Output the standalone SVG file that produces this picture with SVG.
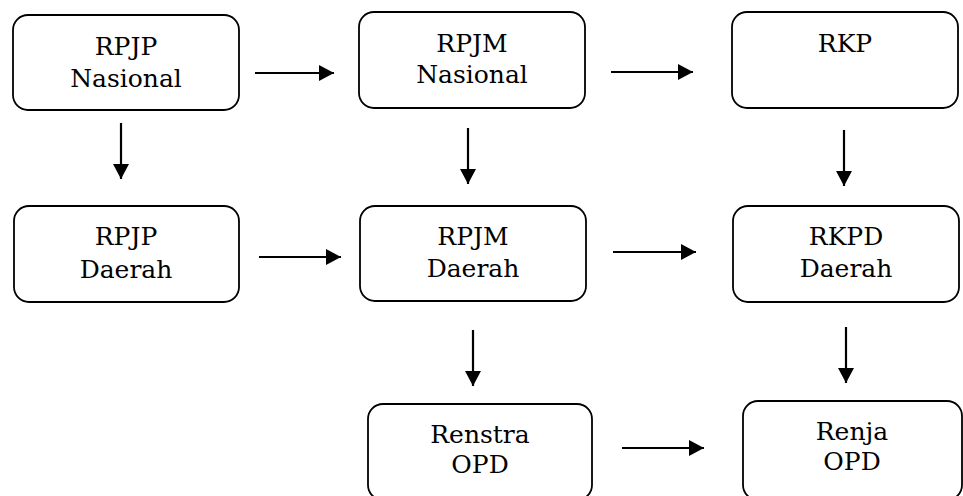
<svg xmlns="http://www.w3.org/2000/svg" width="963" height="496" viewBox="0 0 963 496">
<style>
.box{fill:#fff;stroke:#000;stroke-width:1.8}
.t{font-family:"DejaVu Serif","Liberation Serif",serif;font-size:25px;fill:#000;text-anchor:middle}
.c{stroke:#000;stroke-width:2.2;fill:none;marker-end:url(#ah)}
</style>
<defs>
<marker id="ah" markerUnits="userSpaceOnUse" markerWidth="17" markerHeight="17" refX="15" refY="8" orient="auto">
<path d="M0,0 L15,8 L0,16 Z" fill="#000"/>
</marker>
</defs>
<rect width="963" height="496" fill="#fff"/>
<g id="connectors">
<line class="c" x1="255" y1="73" x2="334" y2="73"/>
<line class="c" x1="611" y1="72" x2="693" y2="72"/>
<line class="c" x1="121" y1="123" x2="121" y2="179"/>
<line class="c" x1="468" y1="128" x2="468" y2="184"/>
<line class="c" x1="844" y1="130" x2="844" y2="186"/>
<line class="c" x1="259" y1="257" x2="341" y2="257"/>
<line class="c" x1="613" y1="252" x2="696" y2="252"/>
<line class="c" x1="473" y1="330" x2="473" y2="386"/>
<line class="c" x1="846" y1="327" x2="846" y2="383"/>
<line class="c" x1="622" y1="448" x2="704" y2="448"/>
</g>
<g id="rpjp-nasional">
<rect class="box" x="13" y="15" width="226" height="95" rx="15"/>
<text class="t" x="126" y="55">RPJP</text>
<text class="t" x="126" y="87">Nasional</text>
</g>
<g id="rpjm-nasional">
<rect class="box" x="359" y="12" width="226" height="96" rx="15"/>
<text class="t" x="472" y="52">RPJM</text>
<text class="t" x="472" y="83">Nasional</text>
</g>
<g id="rkp">
<rect class="box" x="732" y="12" width="226" height="96" rx="15"/>
<text class="t" x="845" y="52">RKP</text>
</g>
<g id="rpjp-daerah">
<rect class="box" x="14" y="206" width="225" height="96" rx="15"/>
<text class="t" x="126" y="245">RPJP</text>
<text class="t" x="126" y="278">Daerah</text>
</g>
<g id="rpjm-daerah">
<rect class="box" x="360" y="206" width="226" height="95" rx="15"/>
<text class="t" x="473" y="245">RPJM</text>
<text class="t" x="473" y="277">Daerah</text>
</g>
<g id="rkpd-daerah">
<rect class="box" x="733" y="206" width="226" height="96" rx="15"/>
<text class="t" x="846" y="245">RKPD</text>
<text class="t" x="846" y="277">Daerah</text>
</g>
<g id="renstra-opd">
<rect class="box" x="368" y="404" width="224" height="96" rx="15"/>
<text class="t" x="480" y="443">Renstra</text>
<text class="t" x="480" y="473">OPD</text>
</g>
<g id="renja-opd">
<rect class="box" x="743" y="401" width="219" height="99" rx="15"/>
<text class="t" x="852" y="440">Renja</text>
<text class="t" x="852" y="470">OPD</text>
</g>
</svg>
